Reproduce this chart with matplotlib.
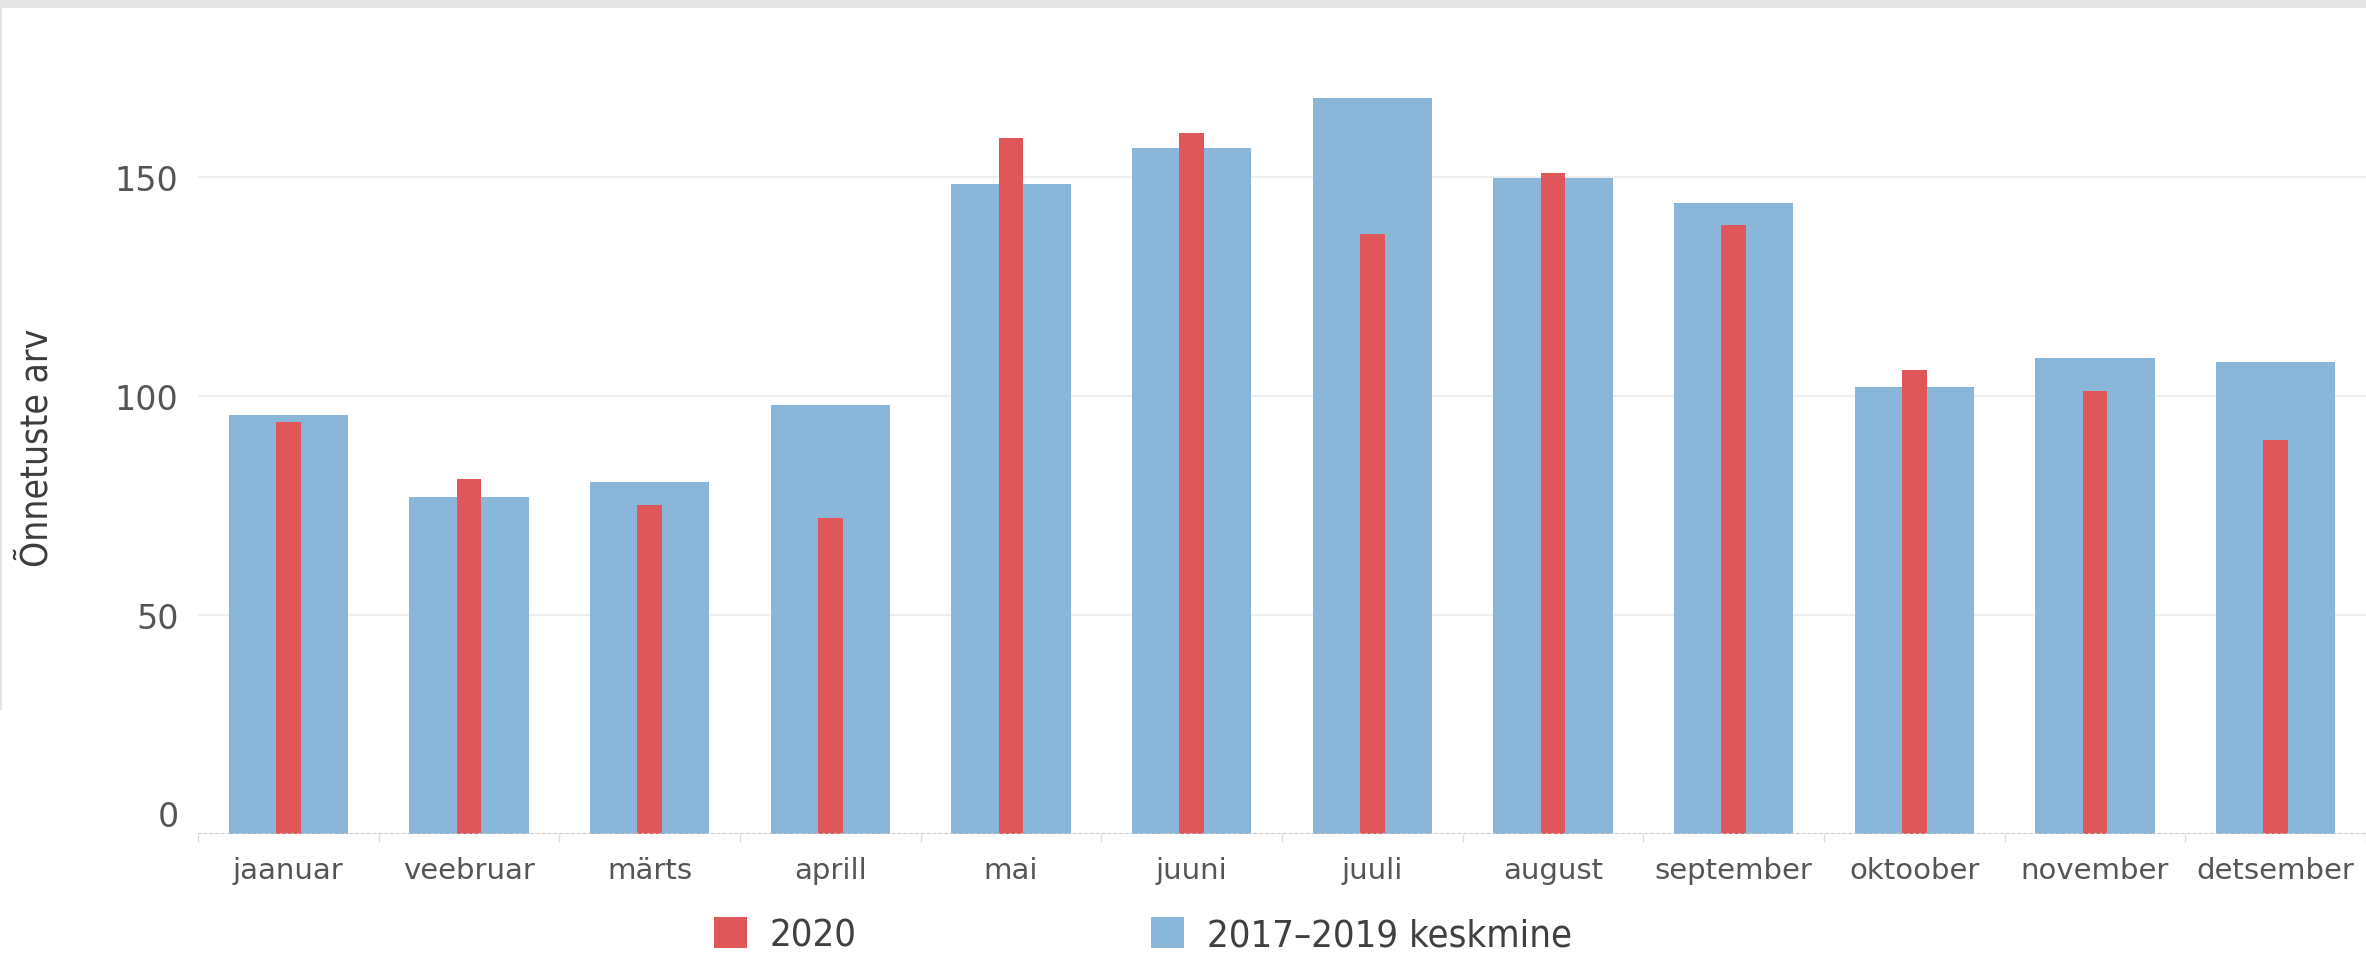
import matplotlib
matplotlib.use("Agg")
import matplotlib.pyplot as plt
import matplotlib.font_manager as fm
from matplotlib.patches import Patch, Rectangle
from matplotlib.lines import Line2D
import numpy as np

months = ["jaanuar", "veebruar", "märts", "aprill", "mai", "juuni", "juuli",
          "august", "september", "oktoober", "november", "detsember"]
avg_2017_2019 = [95.67, 77.0, 80.33, 98.0, 148.5, 156.67, 168.0, 149.67,
                 144.0, 102.0, 108.67, 107.67]
values_2020 = [94, 81, 75, 72, 159, 160, 137, 151, 139, 106, 101, 90]
yticks = [0, 50, 100, 150]
series_labels = ["2020", "2017–2019 keskmine"]
y_title = "Õnnetuste arv"

BLUE = "#8AB6D9"
RED = "#E05759"
TICK_C = "#555555"
TITLE_C = "#3c3c3c"


def find_condensed():
    smap = {"ultra-condensed": 100, "extra-condensed": 200, "condensed": 300,
            "semi-condensed": 400, "normal": 500, "semi-expanded": 600,
            "expanded": 700, "extra-expanded": 800, "ultra-expanded": 900}
    best = None
    for f in fm.fontManager.ttflist:
        st = f.stretch
        val = smap.get(st, 500) if isinstance(st, str) else int(st)
        nm = (f.name or "").lower()
        fn = (f.fname or "").lower()
        if "narrow" in nm or "condensed" in nm or "narrow" in fn or "condensed" in fn:
            val = min(val, 300)
        if "extracondensed" in fn or "extra condensed" in nm:
            val = 200
        if "semicondensed" in fn or "semi condensed" in nm:
            val = 400
        wt = f.weight
        if isinstance(wt, str):
            wt = {"normal": 400, "regular": 400, "book": 400, "medium": 500}.get(wt.lower(), 700)
        if f.style != "normal" or not (350 <= wt <= 450) or val > 400:
            continue
        if "bold" in fn or "italic" in fn or "light" in fn or "thin" in fn or "black" in fn \
                or "medium" in fn or "semibold" in fn:
            continue
        score = abs(val - 300)
        if "sans" not in nm:
            score += 50
        if best is None or score < best[0]:
            best = (score, f.fname)
    if best is None:
        return fm.FontProperties(family="DejaVu Sans")
    return fm.FontProperties(fname=best[1])


cond_fp = find_condensed()

W, H = 2366, 954
fig = plt.figure(figsize=(W / 100, H / 100), dpi=100)
fig.patch.set_facecolor("white")
fig.canvas.draw()
renderer = fig.canvas.get_renderer()


def fit_size(text, target_px):
    t = fig.text(0, 0, text, fontproperties=cond_fp, fontsize=30)
    w = t.get_window_extent(renderer).width
    t.remove()
    return 30 * target_px / w


leg_size = fit_size(series_labels[1], 365)
title_size = fit_size(y_title, 238)

# top grey band and faint left border
fig.patches.append(Rectangle((0, 1 - 9 / H), 1, 9 / H, transform=fig.transFigure,
                             facecolor="#e5e6e5", edgecolor="none", zorder=0))
fig.add_artist(Line2D([1 / W, 1 / W], [1 - 9 / H, 1 - 710 / H], transform=fig.transFigure,
                      color="#e2e2e2", lw=1.5))

ax_left = 198 / W
ax_bottom = 1 - 834.5 / H
ax_h = (834.5 - 10) / H
ax = fig.add_axes([ax_left, ax_bottom, 1 - ax_left, ax_h])

x = np.arange(len(months))
ax.bar(x, avg_2017_2019, width=0.66, color=BLUE, zorder=2)
ax.bar(x, values_2020, width=0.135, color=RED, zorder=3)

ax.set_xlim(-0.5, len(months) - 0.5)
ax.set_ylim(0, 188.4)

for s in ax.spines.values():
    s.set_visible(False)

ax.set_yticks(yticks)
ax.set_yticklabels([str(v) for v in yticks])
ax.grid(axis="y", color="#efefef", lw=1.6, zorder=0)
ax.set_axisbelow(True)
ax.axhline(0, color="#c4c4c4", lw=1.4, ls=(0, (1.5, 1.5)), zorder=4)

ax.tick_params(axis="y", length=0, pad=14, labelsize=24, labelcolor=TICK_C)
ax.set_xticks(x)
ax.set_xticklabels(months)
ax.tick_params(axis="x", length=0, pad=16, labelsize=21, labelcolor=TICK_C)
ax.set_xticks(np.arange(-0.5, len(months), 1.0), minor=True)
ax.tick_params(axis="x", which="minor", length=6, width=1, color="#dddddd")

# zero label sits above the baseline
for lab in ax.get_yticklabels():
    if lab.get_text() == "0":
        lab.set_verticalalignment("bottom")

ax.set_ylabel(y_title, fontproperties=cond_fp, fontsize=title_size, color=TITLE_C)
ax.yaxis.set_label_coords(-0.0655, 0.469)

# legend entries
leg_prop = cond_fp.copy()
leg_prop.set_size(leg_size)
em = leg_size * 100 / 72
leg_kw = dict(frameon=False, loc="center left", borderpad=0, borderaxespad=0,
              handlelength=33 / em, handleheight=33 / em, handletextpad=23 / em,
              prop=leg_prop, labelcolor="#404040")
fig.legend(handles=[Patch(facecolor=RED, edgecolor="none")], labels=[series_labels[0]],
           bbox_to_anchor=(714 / W, 1 - 936 / H), **leg_kw)
fig.legend(handles=[Patch(facecolor=BLUE, edgecolor="none")], labels=[series_labels[1]],
           bbox_to_anchor=(1151 / W, 1 - 936 / H), **leg_kw)

fig.savefig("out.png", dpi=100, facecolor="white")
